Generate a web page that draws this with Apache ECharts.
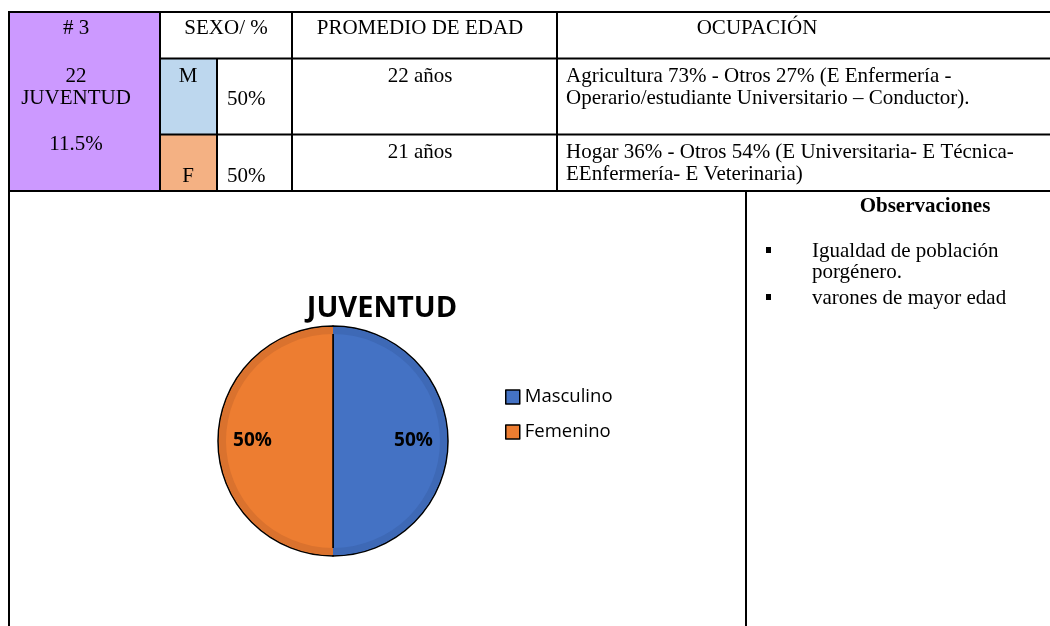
<!DOCTYPE html>
<html>
<head>
<meta charset="utf-8">
<script src="https://cdn.jsdelivr.net/npm/echarts@6/dist/echarts.min.js"></script>
<style>html,body{margin:0;padding:0;background:#fff}#c{width:1050px;height:626px}</style>
</head>
<body>
<div id="c"></div>
<script>
// ---- data ----
var chartTitle = 'JUVENTUD';
var categories = ['Masculino', 'Femenino'];
var values = [50, 50];
var groupLabels = ['# 3', '22', 'JUVENTUD', '11.5%'];
var headers = ['SEXO/ %', 'PROMEDIO DE EDAD', 'OCUPACIÓN'];
var sexCodes = ['M', 'F'];
var sexPercents = ['50%', '50%'];
var ageTexts = ['22 años', '21 años'];
var occupationLines = [
  ['Agricultura 73% - Otros 27% (E Enfermería -', 'Operario/estudiante Universitario – Conductor).'],
  ['Hogar 36% - Otros 54% (E Universitaria- E Técnica-', 'EEnfermería- E Veterinaria)']
];
var obsTitle = 'Observaciones';
var obsBullets = [['Igualdad de población', 'porgénero.'], ['varones de mayor edad']];

// ---- styles ----
var mainColors = ['#4472C4', '#ED7D31'];
var edgeColors = ['#3E69B6', '#DA722E'];
var serif = '"Liberation Serif", "Times New Roman", serif';
var sans = '"Open Sans", "Noto Sans", sans-serif';
var FS = 21;

function txt(s, x, y, opt) {
  opt = opt || {};
  return {
    type: 'text', x: x, y: y, z: 10,
    style: {
      text: s,
      font: (opt.bold ? 'bold ' : '') + (opt.size || FS) + 'px ' + serif,
      fill: '#000',
      align: opt.align || 'center', textAlign: opt.align || 'center',
      verticalAlign: 'middle', textVerticalAlign: 'middle'
    }
  };
}
function ln(x1, y1, x2, y2) {
  return { type: 'line', z: 9, shape: { x1: x1, y1: y1, x2: x2, y2: y2 }, style: { stroke: '#000', lineWidth: 2 } };
}
function rc(x, y, w, h, c) {
  return { type: 'rect', z: 1, shape: { x: x, y: y, width: w, height: h }, style: { fill: c } };
}

var g = [];
// fills
g.push(rc(9, 12, 151, 179, '#CC99FF'));
g.push(rc(160, 58.5, 57, 76, '#BDD7EE'));
g.push(rc(160, 134.5, 57, 56.5, '#F4B183'));
// grid lines
g.push(ln(9, 12, 1050, 12));
g.push(ln(160, 58.5, 1050, 58.5));
g.push(ln(160, 134.5, 1050, 134.5));
g.push(ln(8, 191, 1050, 191));
g.push(ln(9, 11, 9, 626));
g.push(ln(160, 12, 160, 191));
g.push(ln(217, 58.5, 217, 191));
g.push(ln(292, 12, 292, 191));
g.push(ln(557, 12, 557, 191));
g.push(ln(746, 191, 746, 626));
// texts
g.push(txt(groupLabels[0], 76, 28));
g.push(txt(groupLabels[1], 76, 76));
g.push(txt(groupLabels[2], 76, 98));
g.push(txt(groupLabels[3], 76, 144));
g.push(txt(headers[0], 226, 28));
g.push(txt(headers[1], 420, 28));
g.push(txt(headers[2], 757, 28));
g.push(txt(sexCodes[0], 188, 76));
g.push(txt(sexCodes[1], 188, 176));
g.push(txt(sexPercents[0], 227, 99, { align: 'left' }));
g.push(txt(sexPercents[1], 227, 176, { align: 'left' }));
g.push(txt(ageTexts[0], 420, 76));
g.push(txt(ageTexts[1], 420, 152));
g.push(txt(occupationLines[0][0], 566, 76, { align: 'left' }));
g.push(txt(occupationLines[0][1], 566, 98, { align: 'left' }));
g.push(txt(occupationLines[1][0], 566, 152, { align: 'left' }));
g.push(txt(occupationLines[1][1], 566, 174, { align: 'left' }));
g.push(txt(obsTitle, 925, 207, { bold: true }));
var by = [251, 298];
obsBullets.forEach(function (b, i) {
  g.push({ type: 'rect', z: 10, shape: { x: 766, y: by[i] - 4, width: 5, height: 6 }, style: { fill: '#000' } });
  b.forEach(function (line, j) {
    g.push(txt(line, 812, by[i] + j * 21, { align: 'left' }));
  });
});

var pieData = categories.map(function (n, i) { return { name: n, value: values[i], itemStyle: { color: mainColors[i] } }; });
var edgeData = categories.map(function (n, i) { return { name: n, value: values[i], itemStyle: { color: edgeColors[i] } }; });
var labelData = categories.map(function (n, i) { return { name: n, value: values[i] }; });

var option = {
  backgroundColor: '#fff',
  animation: false,
  title: {
    text: chartTitle, left: 382, top: 294, textAlign: 'center', padding: 0,
    textStyle: { fontFamily: sans, fontWeight: 'bold', fontSize: 29, color: '#000' }
  },
  legend: {
    orient: 'vertical', left: 505, top: 387, itemGap: 15, padding: 0,
    itemWidth: 14, itemHeight: 14, icon: 'rect',
    data: categories,
    itemStyle: { borderColor: '#000', borderWidth: 1.5 },
    textStyle: { fontFamily: sans, fontSize: 18.5, color: '#000', lineHeight: 20 },
    selectedMode: false
  },
  graphic: g,
  series: [
    {
      type: 'pie', center: [333, 441], radius: [0, 115], startAngle: 90, clockwise: true,
      silent: true, data: pieData,
      itemStyle: { borderColor: '#000', borderWidth: 1.5 },
      label: { show: false }, labelLine: { show: false }, z: 2
    },
    {
      type: 'pie', center: [333, 441], radius: [107, 114], startAngle: 90, clockwise: true,
      silent: true, data: edgeData,
      itemStyle: { borderWidth: 0 },
      label: { show: false }, labelLine: { show: false }, z: 3
    },
    {
      type: 'pie', center: [333, 441], radius: [40, 115], startAngle: 90, clockwise: true,
      silent: true, data: labelData,
      itemStyle: { color: 'rgba(0,0,0,0)', borderWidth: 0 },
      label: {
        show: true, position: 'inside', formatter: '{c}%',
        fontFamily: sans, fontWeight: 'bold', fontSize: 19, color: '#000'
      },
      labelLine: { show: false }, z: 4
    }
  ]
};
var chart = echarts.init(document.getElementById('c'));
chart.setOption(option);
</script>
</body>
</html>
